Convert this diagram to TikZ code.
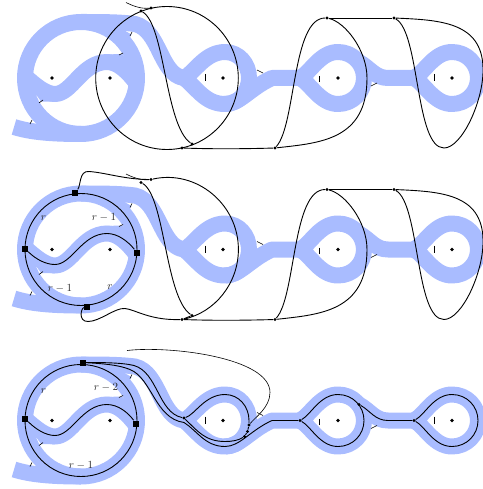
\documentclass[tikz,border=0pt]{standalone}
\usepackage{amsmath,amssymb}
\usepackage{xcolor}
\usetikzlibrary{positioning, calc}
\definecolor{bandblue}{HTML}{A9BCFF}
\tikzset{
  band/.style={draw=bandblue, line width=16pt, line join=round},
  curve/.style={draw=black, line width=0.9pt},
  thincurve/.style={draw=black, line width=0.6pt},
  tickmark/.style={draw=black, line width=0.6pt},
  puncture/.style={circle, fill=black, inner sep=0pt, minimum size=3.6pt},
  knot/.style={circle, fill=black, inner sep=0pt, minimum size=3.4pt},
  corner/.style={rectangle, fill=black, inner sep=0pt, minimum size=6pt},
  lbl/.style={font=\fontsize{10.95}{13}\selectfont, text=black!85, inner sep=0pt}
}
% the surface, repeated in each row
\newcommand{\drawband}[1]{
  \begin{scope}[yshift=-#1pt]
    \draw[band] (81,78) circle[radius=56];
    \draw[band] (14,127) .. controls (30,132) and (50,134) .. (81,134);
    \draw[band] (25,76) .. controls (36,86) and (46,94) .. (55,94) .. controls (72,94) and (82,62) .. (107,62) .. controls (118,62) and (128,72) .. (137,84);
    \draw[band] (81,22) .. controls (100,22) and (120,22) .. (135,24) .. controls (160,30) and (160,75) .. (184,78);
    \draw[band] (184,78) .. controls (195,72) and (205,52) .. (225,52) .. controls (239,52) and (249,64) .. (249,78) .. controls (249,92) and (239,104) .. (225,104) .. controls (205,104) and (197,88) .. (184,78);
    \draw[band] (225,104) .. controls (240,104) and (250,88) .. (272,78) -- (300,78);
    \draw[band] (300,78) .. controls (311,72) and (320,52) .. (338,52) .. controls (353,52) and (364,64) .. (364,78) .. controls (364,92) and (353,104) .. (338,104) .. controls (320,104) and (311,84) .. (300,78);
    \draw[band] (359,62) .. controls (370,68) and (375,78) .. (388,78) -- (414,78);
    \draw[band] (414,78) .. controls (425,72) and (434,52) .. (452,52) .. controls (467,52) and (478,64) .. (478,78) .. controls (478,92) and (467,104) .. (452,104) .. controls (434,104) and (425,84) .. (414,78);
    % wedges where the band widens
    \fill[bandblue] (105,54.5) -- (122,54) -- (130,62) -- (125,78) -- (110,66) -- cycle;
    \fill[bandblue] (56,100) -- (55,101.8) -- (41,101.5) -- (33,90) -- (45,85) -- cycle;
    \fill[bandblue] (120,28) -- (131.5,34.5) -- (125,45) -- cycle;
    % ticks at the edge of the band
    \draw[tickmark] (30,124) -- (32,120);
    \draw[tickmark] (39,103) -- (43,100);
    \draw[tickmark] (119,55) -- (123,53);
    \draw[tickmark] (130,36) -- (132,32);
    \draw[tickmark] (205,74) -- (205,81);
    \draw[tickmark] (257,70) -- (263,73);
    \draw[tickmark] (319,76) -- (319,82);
    \draw[tickmark] (371,86) -- (377,83);
    \draw[tickmark] (434,74) -- (434,81);
    \foreach \px in {52,110,223,338,452} {
      \node[puncture] at (\px,78) {};
    }
  \end{scope}
}
\begin{document}
\begin{tikzpicture}[x=1pt,y=-1pt]
  \useasboundingbox (0,0) rectangle (482,489);
  \drawband{0}
  \drawband{171.5}
  \drawband{342.5}

  % Top row
  \node[knot] (a1) at (141,11) {};
  \node[knot] (a2) at (151,8) {};
  \node[knot] (a3) at (192,144) {};
  \node[knot] (a4) at (182,148) {};
  \node[knot] (a5) at (275,148) {};
  \node[knot] (a6) at (327,18) {};
  \node[knot] (a7) at (394,18) {};
  \coordinate (a0) at (126,2.5);
  \draw[thincurve] (a0) .. controls (133,6) and (141,9) .. (a2);
  \draw[curve] (167,78) ellipse[x radius=71.3, y radius=71.5];
  \draw[curve] (a1) .. controls (165,25) and (165,125) .. (a3);
  \draw[curve] (a4) .. controls (210,149) and (240,149) .. (a5);
  \draw[curve] (a5) .. controls (320,143) and (367,140) .. (367,78) .. controls (367,50) and (345,22) .. (a6);
  \draw[curve] (a5) .. controls (296,125) and (292,18) .. (a6);
  \draw[curve] (a6) -- (a7);
  \draw[curve] (a7) .. controls (440,20) and (482,22) .. (483,68) .. controls (484,100) and (462,148) .. (444,148) .. controls (415,148) and (420,32) .. (a7);

  % Middle row
  \begin{scope}[yshift=-171.5pt]
    \node[knot] (b1) at (141,11) {};
    \node[knot] (b2) at (151,8) {};
    \node[knot] (b3) at (192,144) {};
    \node[knot] (b4) at (182,148) {};
    \node[knot] (b5) at (275,148) {};
    \node[knot] (b6) at (327,18) {};
    \node[knot] (b7) at (394,18) {};
    \coordinate (b0) at (126,2.5);
    \draw[thincurve] (b0) .. controls (133,6) and (141,9) .. (b2);
    \draw[curve] (b2) .. controls (195.8,-2.2) and (238.4,32.1) .. (238.4,78) .. controls (238.4,111.7) and (215,141) .. (b4);
    \draw[curve] (b1) .. controls (165,25) and (165,125) .. (b3) -- (b4);
    \draw[curve] (b4) .. controls (210,149) and (240,149) .. (b5);
    \draw[curve] (b5) .. controls (320,143) and (367,140) .. (367,78) .. controls (367,50) and (345,22) .. (b6);
    \draw[curve] (b5) .. controls (296,125) and (292,18) .. (b6);
    \draw[curve] (b6) -- (b7);
    \draw[curve] (b7) .. controls (440,20) and (482,22) .. (483,68) .. controls (484,100) and (462,148) .. (444,148) .. controls (415,148) and (420,32) .. (b7);
    \node[corner] (c1) at (75,21) {};
    \node[corner] (c2) at (25,77) {};
    \node[corner] (c3) at (137,81) {};
    \node[corner] (c4) at (87,135) {};
    \draw[curve] (81,78) circle[radius=56];
    \draw[curve] (c2) .. controls (36,88) and (46,93) .. (55,93) .. controls (72,93) and (82,62) .. (107,62) .. controls (118,62) and (128,70) .. (c3);
    \draw[curve] (c1) .. controls (81,14) and (79,-1) .. (89,0) .. controls (105,1) and (125,8) .. (b2);
    \draw[curve] (c4) .. controls (81,137) and (78,150) .. (88,150) .. controls (100,150) and (115,136) .. (125,137) .. controls (135,138) and (150,149) .. (b4);
  \end{scope}

  % Bottom row
  \begin{scope}[yshift=-342.5pt]
    \node[corner] (d1) at (83,20) {};
    \node[corner] (d2) at (25,76) {};
    \node[corner] (d3) at (136,81) {};
    \node[knot] (e1) at (184,75.5) {};
    \node[knot] (e2) at (249,82.5) {};
    \node[knot] (e7) at (247.5,89) {};
    \node[knot] (e3) at (244.5,94) {};
    \node[knot] (e4) at (300,78) {};
    \node[knot] (e5) at (359,62) {};
    \node[knot] (e6) at (414,78) {};
    \coordinate (e0) at (127,8);
    \draw[curve] (81,78) circle[radius=56];
    \draw[curve] (d2) .. controls (36,87) and (46,93) .. (55,93) .. controls (72,93) and (82,62) .. (107,62) .. controls (118,62) and (128,70) .. (d3);
    \draw[curve] (d1) .. controls (100,20) and (122,20) .. (134,23) .. controls (158,30) and (158,70) .. (e1);
    \draw[curve] (d1) .. controls (100,21) and (118,22) .. (130,27) .. controls (152,36) and (155,76) .. (184,80) .. controls (197,88) and (205,104) .. (225,104) .. controls (240,104) and (250,88) .. (272,78) -- (e4);
    \draw[curve] (e1) .. controls (195,72) and (205,52) .. (225,52) .. controls (239,52) and (249,64) .. (249,78) -- (e2) -- (e7) -- (e3) .. controls (238,98) and (232,99) .. (225,99) .. controls (205,99) and (197,88) .. (e1);
    \draw[curve] (e4) .. controls (311,72) and (320,52) .. (338,52) .. controls (353,52) and (364,64) .. (364,78) .. controls (364,92) and (353,104) .. (338,104) .. controls (320,104) and (311,84) .. (e4);
    \draw[curve] (e5) .. controls (370,68) and (375,78) .. (388,78) -- (e6);
    \draw[curve] (e6) .. controls (425,72) and (434,52) .. (452,52) .. controls (467,52) and (478,64) .. (478,78) .. controls (478,92) and (467,104) .. (452,104) .. controls (434,104) and (425,84) .. (e6);
    \draw[thincurve] (e0) .. controls (170,3) and (270,15) .. (270,50) .. controls (270,65) and (255,75) .. (e2);
  \end{scope}

  % Labels
  \node[lbl] (l1) at (43.5,218) {$r$};
  \node[lbl] (l2) at (104,217.5) {$r-1$};
  \node[lbl] (l3) at (60,288) {$r-1$};
  \node[lbl] (l4) at (110,287) {$r$};
  \node[lbl] (l5) at (43.5,391) {$r$};
  \node[lbl] (l6) at (106,387.5) {$r-2$};
  \node[lbl] (l7) at (81,465) {$r-1$};
\end{tikzpicture}
\end{document}
